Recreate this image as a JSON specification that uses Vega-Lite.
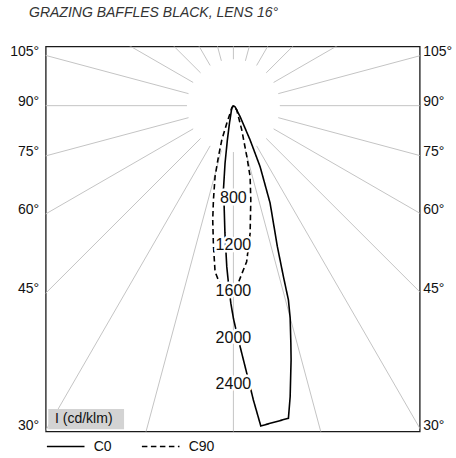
{
  "$schema": "https://vega.github.io/schema/vega-lite/v6.json",
  "width": 374,
  "height": 385,
  "autosize": "none",
  "padding": {"left": 45.7, "top": 46.5, "right": 36.3, "bottom": 26.5},
  "background": "white",
  "title": {
    "text": "GRAZING BAFFLES BLACK, LENS 16°",
    "anchor": "start",
    "frame": "group",
    "dx": -16.7,
    "offset": 11,
    "baseline": "bottom",
    "fontSize": 14,
    "fontStyle": "italic",
    "fontWeight": "normal",
    "font": "Liberation Sans",
    "color": "#333333"
  },
  "config": {
    "view": {"stroke": "#1a1a1a", "strokeWidth": 1.3},
    "font": "Liberation Sans"
  },
  "datasets": {
    "rays": [
      {"angle": 0, "x1": 0, "y1": -400, "x2": 0, "y2": -4000},
      {"angle": 15, "x1": 103.5, "y1": -386.4, "x2": 1035, "y2": -3864},
      {"angle": 30, "x1": 200, "y1": -346.4, "x2": 2000, "y2": -3464},
      {"angle": 45, "x1": 282.8, "y1": -282.8, "x2": 2828, "y2": -2828},
      {"angle": 60, "x1": 346.4, "y1": -200, "x2": 3464, "y2": -2000},
      {"angle": 75, "x1": 386.4, "y1": -103.5, "x2": 3864, "y2": -1035},
      {"angle": 90, "x1": 400, "y1": 0, "x2": 4000, "y2": 0},
      {"angle": 105, "x1": 386.4, "y1": 103.5, "x2": 3864, "y2": 1035},
      {"angle": 120, "x1": 346.4, "y1": 200, "x2": 3464, "y2": 2000},
      {"angle": 135, "x1": 282.8, "y1": 282.8, "x2": 2828, "y2": 2828},
      {"angle": 150, "x1": 200, "y1": 346.4, "x2": 2000, "y2": 3464},
      {"angle": 165, "x1": 103.5, "y1": 386.4, "x2": 1035, "y2": 3864},
      {"angle": 180, "x1": 0, "y1": 400, "x2": 0, "y2": 4000},
      {"angle": -15, "x1": -103.5, "y1": -386.4, "x2": -1035, "y2": -3864},
      {"angle": -30, "x1": -200, "y1": -346.4, "x2": -2000, "y2": -3464},
      {"angle": -45, "x1": -282.8, "y1": -282.8, "x2": -2828, "y2": -2828},
      {"angle": -60, "x1": -346.4, "y1": -200, "x2": -3464, "y2": -2000},
      {"angle": -75, "x1": -386.4, "y1": -103.5, "x2": -3864, "y2": -1035},
      {"angle": -90, "x1": -400, "y1": 0, "x2": -4000, "y2": 0},
      {"angle": -105, "x1": -386.4, "y1": 103.5, "x2": -3864, "y2": 1035},
      {"angle": -120, "x1": -346.4, "y1": 200, "x2": -3464, "y2": 2000},
      {"angle": -135, "x1": -282.8, "y1": 282.8, "x2": -2828, "y2": 2828},
      {"angle": -150, "x1": -200, "y1": 346.4, "x2": -2000, "y2": 3464},
      {"angle": -165, "x1": -103.5, "y1": 386.4, "x2": -1035, "y2": 3864}
    ],
    "curves": [
      {"plane": "C0", "i": 1, "x": 0, "y": 0},
      {"plane": "C0", "i": 2, "x": -14, "y": -20},
      {"plane": "C0", "i": 3, "x": -34, "y": -152},
      {"plane": "C0", "i": 4, "x": -52, "y": -296},
      {"plane": "C0", "i": 5, "x": -72, "y": -497},
      {"plane": "C0", "i": 6, "x": -86, "y": -727},
      {"plane": "C0", "i": 7, "x": -80, "y": -856},
      {"plane": "C0", "i": 8, "x": -73, "y": -1097},
      {"plane": "C0", "i": 9, "x": -57, "y": -1388},
      {"plane": "C0", "i": 10, "x": -41, "y": -1546},
      {"plane": "C0", "i": 11, "x": -22, "y": -1703},
      {"plane": "C0", "i": 12, "x": 0, "y": -1833},
      {"plane": "C0", "i": 13, "x": 29, "y": -1962},
      {"plane": "C0", "i": 14, "x": 58, "y": -2078},
      {"plane": "C0", "i": 15, "x": 101, "y": -2250},
      {"plane": "C0", "i": 16, "x": 144, "y": -2422},
      {"plane": "C0", "i": 17, "x": 172, "y": -2537},
      {"plane": "C0", "i": 18, "x": 236, "y": -2761},
      {"plane": "C0", "i": 19, "x": 474, "y": -2695},
      {"plane": "C0", "i": 20, "x": 489, "y": -2509},
      {"plane": "C0", "i": 21, "x": 497, "y": -2192},
      {"plane": "C0", "i": 22, "x": 495, "y": -2046},
      {"plane": "C0", "i": 23, "x": 489, "y": -1830},
      {"plane": "C0", "i": 24, "x": 474, "y": -1675},
      {"plane": "C0", "i": 25, "x": 431, "y": -1474},
      {"plane": "C0", "i": 26, "x": 379, "y": -1216},
      {"plane": "C0", "i": 27, "x": 316, "y": -839},
      {"plane": "C0", "i": 28, "x": 230, "y": -526},
      {"plane": "C0", "i": 29, "x": 144, "y": -296},
      {"plane": "C0", "i": 30, "x": 58, "y": -95},
      {"plane": "C0", "i": 31, "x": 15, "y": -11},
      {"plane": "C0", "i": 32, "x": 0, "y": 0},
      {"plane": "C90", "i": 1, "x": 0, "y": 0},
      {"plane": "C90", "i": 2, "x": -14, "y": -22},
      {"plane": "C90", "i": 3, "x": -57, "y": -152},
      {"plane": "C90", "i": 4, "x": -100, "y": -296},
      {"plane": "C90", "i": 5, "x": -129, "y": -440},
      {"plane": "C90", "i": 6, "x": -158, "y": -612},
      {"plane": "C90", "i": 7, "x": -172, "y": -813},
      {"plane": "C90", "i": 8, "x": -178, "y": -985},
      {"plane": "C90", "i": 9, "x": -172, "y": -1201},
      {"plane": "C90", "i": 10, "x": -158, "y": -1431},
      {"plane": "C90", "i": 11, "x": -123, "y": -1520},
      {"plane": "C90", "i": 12, "x": -63, "y": -1589},
      {"plane": "C90", "i": 13, "x": -3, "y": -1580},
      {"plane": "C90", "i": 14, "x": 41, "y": -1531},
      {"plane": "C90", "i": 15, "x": 69, "y": -1459},
      {"plane": "C90", "i": 16, "x": 114, "y": -1345},
      {"plane": "C90", "i": 17, "x": 144, "y": -1100},
      {"plane": "C90", "i": 18, "x": 150, "y": -813},
      {"plane": "C90", "i": 19, "x": 144, "y": -612},
      {"plane": "C90", "i": 20, "x": 116, "y": -440},
      {"plane": "C90", "i": 21, "x": 72, "y": -209},
      {"plane": "C90", "i": 22, "x": 29, "y": -37},
      {"plane": "C90", "i": 23, "x": 0, "y": 0}
    ],
    "intensity": [
      {"label": "800", "x": 0, "y": -800},
      {"label": "1200", "x": 0, "y": -1200},
      {"label": "1600", "x": 0, "y": -1600},
      {"label": "2000", "x": 0, "y": -2000},
      {"label": "2400", "x": 0, "y": -2400}
    ],
    "unit": [{"label": "I (cd/klm)"}]
  },
  "resolve": {"axis": {"y": "independent"}},
  "layer": [
    {
      "data": {"name": "rays"},
      "mark": {"type": "rule", "color": "#c4c4c4", "strokeWidth": 1, "clip": true},
      "encoding": {
        "x": {"field": "x1", "type": "quantitative", "scale": {"domain": [-1617, 1605], "nice": false, "zero": false}, "axis": null},
        "y": {
          "field": "y1", "type": "quantitative",
          "scale": {"domain": [-2809, 510], "nice": false, "zero": false},
          "axis": {
            "orient": "left", "title": null, "grid": false, "domain": false, "ticks": false, "tickSize": 0,
            "values": [432, 0, -432, -930, -1611, -2790],
            "labelExpr": "datum.value == 432 ? '105°' : datum.value == 0 ? '90°' : datum.value == -432 ? '75°' : datum.value == -930 ? '60°' : datum.value == -1611 ? '45°' : '30°'",
            "labelFontSize": 14, "labelFont": "Liberation Sans", "labelColor": "#111111",
            "labelPadding": 7, "labelBaseline": "alphabetic", "labelOverlap": false, "labelBound": false, "labelFlush": false
          }
        },
        "x2": {"field": "x2"},
        "y2": {"field": "y2"}
      }
    },
    {
      "data": {"name": "unit"},
      "mark": {"type": "rect", "color": "#d3d3d3"},
      "encoding": {
        "x": {"datum": -1595, "type": "quantitative", "scale": {"domain": [-1617, 1605], "nice": false, "zero": false}, "axis": null},
        "x2": {"datum": -942},
        "y": {"datum": -2615, "type": "quantitative", "scale": {"domain": [-2809, 510], "nice": false, "zero": false}, "axis": null},
        "y2": {"datum": -2790}
      }
    },
    {
      "data": {"name": "unit"},
      "mark": {"type": "text", "align": "left", "baseline": "middle", "fontSize": 14, "font": "Liberation Sans", "color": "#111111"},
      "encoding": {
        "x": {"datum": -1537, "type": "quantitative", "scale": {"domain": [-1617, 1605], "nice": false, "zero": false}, "axis": null},
        "y": {"datum": -2701, "type": "quantitative", "scale": {"domain": [-2809, 510], "nice": false, "zero": false}, "axis": null},
        "text": {"field": "label"}
      }
    },
    {
      "data": {"name": "curves"},
      "mark": {"type": "line", "color": "black", "strokeWidth": 1.6, "clip": true},
      "encoding": {
        "x": {"field": "x", "type": "quantitative", "scale": {"domain": [-1617, 1605], "nice": false, "zero": false}, "axis": null},
        "y": {
          "field": "y", "type": "quantitative",
          "scale": {"domain": [-2809, 510], "nice": false, "zero": false},
          "axis": {
            "orient": "right", "title": null, "grid": false, "domain": false, "ticks": false, "tickSize": 0,
            "values": [432, 0, -432, -930, -1611, -2790],
            "labelExpr": "datum.value == 432 ? '105°' : datum.value == 0 ? '90°' : datum.value == -432 ? '75°' : datum.value == -930 ? '60°' : datum.value == -1611 ? '45°' : '30°'",
            "labelFontSize": 14, "labelFont": "Liberation Sans", "labelColor": "#111111",
            "labelPadding": 3, "labelBaseline": "alphabetic", "labelOverlap": false, "labelBound": false, "labelFlush": false
          }
        },
        "order": {"field": "i", "type": "quantitative"},
        "strokeDash": {
          "field": "plane", "type": "nominal",
          "scale": {"domain": ["C0", "C90"], "range": [[1, 0], [5.5, 3.5]]},
          "legend": {
            "orient": "none", "legendX": 0, "legendY": 380, "direction": "horizontal",
            "title": null, "symbolType": "stroke", "symbolSize": 1414, "symbolStrokeWidth": 1.6,
            "symbolStrokeColor": "black", "labelFontSize": 14, "labelFont": "Liberation Sans",
            "labelColor": "#111111", "labelOffset": 8, "columnPadding": 26, "padding": 0
          }
        }
      }
    },
    {
      "data": {"name": "intensity"},
      "mark": {"type": "text", "align": "center", "baseline": "middle", "fontSize": 16, "font": "Liberation Sans", "stroke": "white", "strokeWidth": 5, "strokeJoin": "round", "fill": "white"},
      "encoding": {
        "x": {"field": "x", "type": "quantitative", "scale": {"domain": [-1617, 1605], "nice": false, "zero": false}, "axis": null},
        "y": {"field": "y", "type": "quantitative", "scale": {"domain": [-2809, 510], "nice": false, "zero": false}, "axis": null},
        "text": {"field": "label"}
      }
    },
    {
      "data": {"name": "intensity"},
      "mark": {"type": "text", "align": "center", "baseline": "middle", "fontSize": 16, "font": "Liberation Sans", "color": "#111111"},
      "encoding": {
        "x": {"field": "x", "type": "quantitative", "scale": {"domain": [-1617, 1605], "nice": false, "zero": false}, "axis": null},
        "y": {"field": "y", "type": "quantitative", "scale": {"domain": [-2809, 510], "nice": false, "zero": false}, "axis": null},
        "text": {"field": "label"}
      }
    }
  ]
}
